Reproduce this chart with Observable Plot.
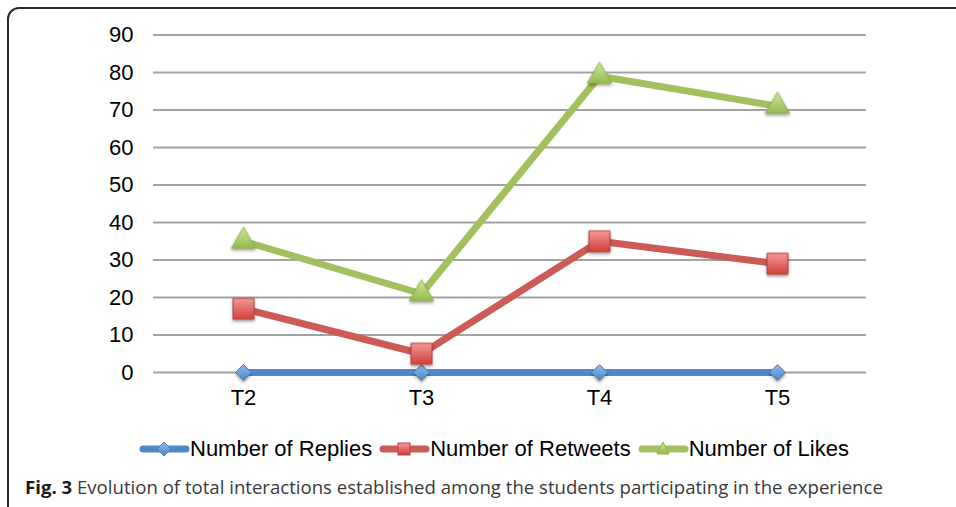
<!DOCTYPE html>
<html>
<head>
<meta charset="utf-8">
<script src="https://cdn.jsdelivr.net/npm/d3@7"></script>
<script src="https://cdn.jsdelivr.net/npm/@observablehq/plot@0.6"></script>
<style>
  html, body { margin: 0; padding: 0; background: #fff; overflow: hidden; }
  #wrap { position: relative; width: 956px; height: 507px; overflow: hidden; background: #fff; }
  #frame { position: absolute; left: 7px; top: 7px; width: 1000px; height: 540px; border: 2px solid #2a2a2a; border-radius: 12px; box-sizing: border-box; }
  #chart { position: absolute; left: 0; top: 0; }
  #legend { position: absolute; left: 139px; top: 436px; display: flex; align-items: center; font-family: "Liberation Sans", Arial, sans-serif; font-size: 22px; color: #000; white-space: nowrap; }
  #legend .item { display: flex; align-items: center; margin-right: 7px; }
  #legend svg { display: block; }
  #caption { position: absolute; left: 25px; top: 474px; font-family: "Open Sans", sans-serif; font-size: 18.6px; color: #3a3a3a; white-space: nowrap; }
  #caption b { color: #1a1a1a; font-weight: 700; }
</style>
</head>
<body>
<div id="wrap">
  <div id="frame"></div>
  <div id="chart"></div>
  <div id="legend"></div>
  <div id="caption"><b>Fig. 3</b> Evolution of total interactions established among the students participating in the experience</div>
</div>
<script>
// ---- data ----
const periods = ["T2", "T3", "T4", "T5"];
const replies = [0, 0, 0, 0];
const retweets = [17, 5, 35, 29];
const likes = [35, 21, 79, 71];
const yTicks = [0, 10, 20, 30, 40, 50, 60, 70, 80, 90];
const seriesNames = ["Number of Replies", "Number of Retweets", "Number of Likes"];

const seriesStyle = {
  "Number of Replies": { line: "#4f88c8", fill: "url(#gBlue)", stroke: "#4a7fbd", symbol: "diamond2", r: 7.2 },
  "Number of Retweets": { line: "#cc5a55", fill: "url(#gRed)", stroke: "#b9403c", symbol: "square", r: 11.8 },
  "Number of Likes": { line: "#a2c05e", fill: "url(#gGreen)", stroke: "#93b452", symbol: "triangle", r: 9 }
};

const table = [replies, retweets, likes].flatMap((vals, si) =>
  periods.map((p, i) => ({ period: p, value: vals[i], series: seriesNames[si] }))
);

const marks = [
  Plot.ruleY(yTicks, { stroke: "#a3a3a3", strokeWidth: 2 })
];
for (const name of seriesNames) {
  const st = seriesStyle[name];
  const d = table.filter(r => r.series === name);
  marks.push(Plot.line(d, { x: "period", y: "value", stroke: st.line, strokeWidth: 7, strokeLinejoin: "round", strokeLinecap: "butt" }));
  marks.push(Plot.dot(d, { x: "period", y: "value", symbol: () => st.symbol, r: st.r, fill: st.fill, stroke: st.stroke, strokeWidth: 1 }));
}

const plot = Plot.plot({
  width: 956,
  height: 420,
  marginLeft: 153,
  marginRight: 90,
  marginTop: 34.5,
  marginBottom: 48,
  style: { fontFamily: "'Liberation Sans', Arial, sans-serif", fontSize: "22px", color: "#000", background: "transparent", overflow: "visible" },
  x: { type: "point", domain: periods, padding: 0.5, label: null, tickSize: 0, tickPadding: 17 },
  y: { domain: [0, 90], ticks: yTicks, label: null, tickSize: 0, tickPadding: 20 },
  symbol: { range: ["diamond2", "square", "triangle"] },
  marks
});

// gradient defs and soft shadow for markers
const ns = "http://www.w3.org/2000/svg";
const defs = document.createElementNS(ns, "defs");
defs.innerHTML = `
  <linearGradient id="gBlue" x1="0" y1="0" x2="0" y2="1"><stop offset="0" stop-color="#8dbbf0"/><stop offset="1" stop-color="#4f86c6"/></linearGradient>
  <linearGradient id="gRed" x1="0" y1="0" x2="0" y2="1"><stop offset="0" stop-color="#f39a96"/><stop offset="1" stop-color="#d23f3a"/></linearGradient>
  <linearGradient id="gGreen" x1="0" y1="0" x2="0" y2="1"><stop offset="0" stop-color="#cde89a"/><stop offset="1" stop-color="#93bb4c"/></linearGradient>`;
plot.insertBefore(defs, plot.firstChild);
plot.querySelectorAll("g[aria-label='dot']").forEach(g => g.style.filter = "drop-shadow(0px 2px 1.5px rgba(0,0,0,0.35))");
document.getElementById("chart").appendChild(plot);

// legend
const legend = document.getElementById("legend");
const legendSym = {
  "Number of Replies": `<path d="M25,2 L32,9 L25,16 L18,9 Z" fill="url(#lgBlue)" stroke="#4a7fbd"/>`,
  "Number of Retweets": `<rect x="19" y="3" width="12" height="12" fill="url(#lgRed)" stroke="#b9403c"/>`,
  "Number of Likes": `<path d="M25,2 L31,14 L19,14 Z" fill="url(#lgGreen)" stroke="#93b452"/>`
};
const lgDefs = `<defs>
  <linearGradient id="lgBlue" x1="0" y1="0" x2="0" y2="1"><stop offset="0" stop-color="#8dbbf0"/><stop offset="1" stop-color="#4f86c6"/></linearGradient>
  <linearGradient id="lgRed" x1="0" y1="0" x2="0" y2="1"><stop offset="0" stop-color="#f39a96"/><stop offset="1" stop-color="#d23f3a"/></linearGradient>
  <linearGradient id="lgGreen" x1="0" y1="0" x2="0" y2="1"><stop offset="0" stop-color="#cde89a"/><stop offset="1" stop-color="#93bb4c"/></linearGradient></defs>`;
seriesNames.forEach((name, i) => {
  const st = seriesStyle[name];
  const item = document.createElement("div");
  item.className = "item";
  item.innerHTML = `<svg width="51" height="18" viewBox="0 0 51 18">${i === 0 ? lgDefs : ""}<line x1="4" y1="9" x2="47" y2="9" stroke="${st.line}" stroke-width="7" stroke-linecap="round"/>${legendSym[name]}</svg><span>${name}</span>`;
  legend.appendChild(item);
});
</script>
</body>
</html>
